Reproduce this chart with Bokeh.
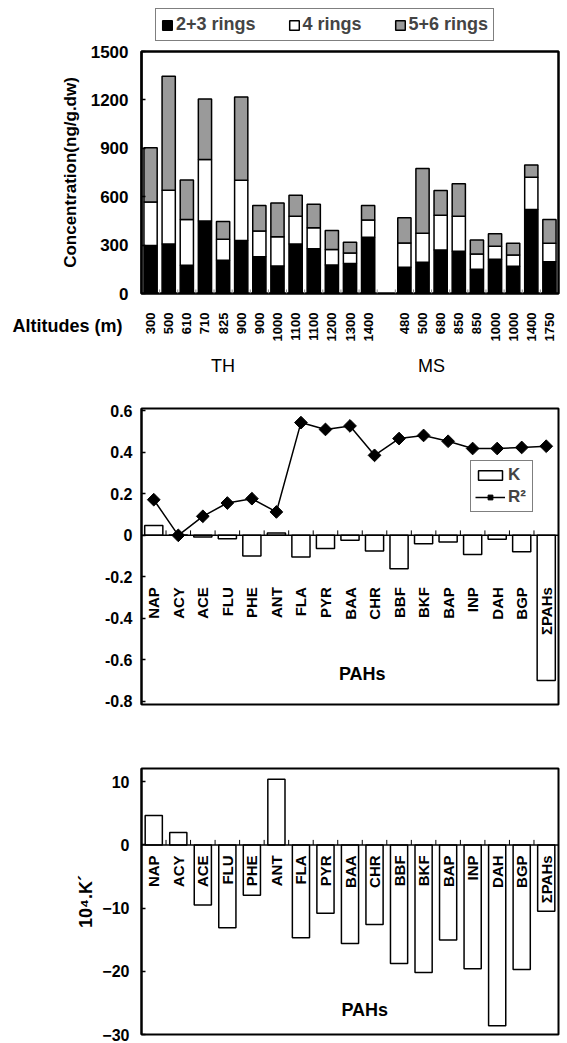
import numpy as np
from bokeh.plotting import figure
from bokeh.models import Range1d, FixedTicker, Legend, LegendItem, Span, ColumnDataSource
from bokeh.layouts import column
from bokeh.embed import file_html
from bokeh.resources import INLINE
from bokeh.core.properties import value

FONT = "Liberation Sans"

# ---------------- Chart 1 data ----------------
th_alt = ["300", "500", "610", "710", "825", "900", "900", "1000", "1100", "1100", "1200", "1300", "1400"]
ms_alt = ["480", "500", "680", "850", "850", "1000", "1000", "1400", "1750"]
th_r23 = [298, 307, 175, 449, 206, 328, 228, 170, 307, 277, 177, 186, 348]
th_r4 = [269, 333, 283, 381, 131, 374, 160, 182, 172, 131, 95, 65, 108]
th_r56 = [336, 706, 245, 375, 110, 516, 158, 209, 130, 145, 118, 67, 89]
ms_r23 = [163, 193, 270, 262, 150, 212, 169, 521, 197]
ms_r4 = [150, 181, 215, 217, 95, 81, 69, 200, 114]
ms_r56 = [156, 401, 153, 202, 87, 77, 73, 76, 148]
group_names = ["TH", "MS"]
ring_names = ["2+3 rings", "4 rings", "5+6 rings"]
conc_ticks = [0, 300, 600, 900, 1200, 1500]

# ---------------- Chart 2 data ----------------
pahs = ["NAP", "ACY", "ACE", "FLU", "PHE", "ANT", "FLA", "PYR", "BAA", "CHR",
        "BBF", "BKF", "BAP", "INP", "DAH", "BGP", "ΣPAHs"]
k_vals = [0.048, 0.002, -0.008, -0.016, -0.100, 0.011, -0.105, -0.064, -0.024, -0.076,
          -0.161, -0.040, -0.032, -0.092, -0.019, -0.079, -0.700]
r2_vals = [0.172, 0.0, 0.092, 0.156, 0.177, 0.113, 0.544, 0.511, 0.528, 0.386,
           0.467, 0.482, 0.454, 0.419, 0.419, 0.424, 0.430]
k_ticks = [-0.8, -0.6, -0.4, -0.2, 0, 0.2, 0.4, 0.6]
k_tick_labels = ["-0.8", "-0.6", "-0.4", "-0.2", "0", "0.2", "0.4", "0.6"]

# ---------------- Chart 3 data ----------------
kp_vals = [4.65, 1.97, -9.5, -13.1, -7.95, 10.4, -14.7, -10.8, -15.6, -12.6,
           -18.75, -20.2, -15.05, -19.6, -28.6, -19.7, -10.5]
kp_ticks = [-30, -20, -10, 0, 10]

W = 567
LB, RB = 141, 9          # common frame borders (column aligns frames)
BAR_LINE = 1.5
GRAY = "#9a9a9a"


def base_fig(height, x_range, y_range, top, bottom):
    p = figure(width=W, height=height, x_range=x_range, y_range=y_range,
               output_backend="svg", toolbar_location=None,
               min_border_left=LB, min_border_right=RB,
               min_border_top=top, min_border_bottom=bottom)
    p.xgrid.visible = False
    p.ygrid.visible = False
    p.xaxis.visible = False
    return p


def style_yaxis(p, size, standoff):
    ax = p.yaxis[0]
    ax.major_label_text_font = FONT
    ax.major_label_text_font_style = "bold"
    ax.major_label_text_font_size = size
    ax.major_label_text_color = "black"
    ax.major_tick_in = 4
    ax.major_tick_out = 0
    ax.minor_tick_line_color = None
    ax.major_tick_line_color = "black"
    ax.major_tick_line_width = 1.5
    ax.axis_line_color = "black"
    ax.axis_line_width = 2
    ax.major_label_standoff = standoff
    ax.axis_label_text_color = "black"
    ax.axis_label_text_font = FONT
    ax.axis_label_text_font_style = "bold"


def stacked_bars(p, src, visible=True):
    r1 = p.vbar(x="x", bottom=0, top="b1", width=0.73, fill_color="black", line_color="black", line_width=BAR_LINE, source=src, visible=visible)
    r2 = p.vbar(x="x", bottom="b1", top="b2", width=0.73, fill_color="white", line_color="black", line_width=BAR_LINE, source=src, visible=visible)
    r3 = p.vbar(x="x", bottom="b2", top="b3", width=0.73, fill_color=GRAY, line_color="black", line_width=BAR_LINE, source=src, visible=visible)
    return r1, r2, r3


# ================= Chart 1 =================
n_th = len(th_alt)
n_ms = len(ms_alt)
n_slots = n_th + 1 + n_ms
xs = list(range(n_th)) + list(range(n_th + 1, n_slots))
alts = th_alt + ms_alt
r23 = np.array(th_r23 + ms_r23)
r4 = np.array(th_r4 + ms_r4)
r56 = np.array(th_r56 + ms_r56)
src1 = ColumnDataSource(dict(x=xs, b1=r23, b2=r23 + r4, b3=r23 + r4 + r56))
x_range1 = Range1d(-0.5, n_slots - 0.5)

# ---- legend strip (hidden copies of the bar renderers; only the legend shows)
p0 = base_fig(41, x_range1, Range1d(0, 1500), 0, 0)
p0.yaxis.visible = False
p0.outline_line_color = None
l1, l2, l3 = stacked_bars(p0, src1, visible=False)
leg1 = Legend(items=[LegendItem(label=ring_names[0], renderers=[l1]),
                     LegendItem(label=ring_names[1], renderers=[l2]),
                     LegendItem(label=ring_names[2], renderers=[l3])],
              orientation="horizontal", location=(14, 0),
              label_text_font=FONT, label_text_font_style="bold", label_text_font_size="18px",
              glyph_width=12, glyph_height=12, label_standoff=3, spacing=32, padding=5, margin=0,
              border_line_color="black", border_line_width=1.5,
              inactive_fill_alpha=0)
p0.add_layout(leg1)

# ---- main chart 1
p1 = base_fig(261, x_range1, Range1d(0, 1500), 10, 9)
p1.outline_line_color = "black"
p1.outline_line_width = 2.5
p1.segment(x0=[i + 0.5 for i in range(n_slots - 1)], y0=0,
           x1=[i + 0.5 for i in range(n_slots - 1)], y1=25, line_color="#888888", line_width=1)
stacked_bars(p1, src1)

p1.yaxis.ticker = FixedTicker(ticks=conc_ticks)
style_yaxis(p1, "17px", 13)
p1.yaxis.axis_label = "Concentration(ng/g.dw)"
p1.yaxis.axis_label_text_font_size = "17px"
p1.yaxis.axis_label_standoff = 8

# ---- altitude strip
p1b = base_fig(46, x_range1, Range1d(-46, 0), 0, 0)
p1b.outline_line_color = None
p1b.text(x=xs, y=-10, text=alts, angle=np.pi / 2, text_align="right", text_baseline="middle",
         text_font=value(FONT), text_font_style="bold", text_font_size="13px", text_color="black")
ay = p1b.yaxis[0]
ay.ticker = FixedTicker(ticks=[])
ay.axis_line_color = None
ay.major_tick_line_color = None
ay.minor_tick_line_color = None
ay.major_tick_in = 0
ay.major_tick_out = 0
ay.major_label_standoff = 0
ay.axis_label = "Altitudes (m)"
ay.axis_label_orientation = "horizontal"
ay.axis_label_standoff = 19
ay.axis_label_text_font = FONT
ay.axis_label_text_font_style = "bold"
ay.axis_label_text_font_size = "18px"
ay.axis_label_text_color = "black"

# ---- group strip (TH / MS)
p1c = base_fig(40, x_range1, Range1d(-40, 0), 0, 0)
p1c.yaxis.visible = False
p1c.outline_line_color = None
p1c.text(x=[4.0, 15.5], y=-17, text=group_names, text_align="center", text_baseline="middle",
         text_font=value(FONT), text_font_size="18px", text_color="black")

# ================= Chart 2 =================
idx = list(range(len(pahs)))
bounds = [i + 0.5 for i in range(len(pahs) - 1)]

p2 = base_fig(347, Range1d(-0.5, len(pahs) - 0.5), Range1d(-0.816, 0.612), 20, 31)
p2.outline_line_color = "black"
p2.outline_line_width = 2

src2 = ColumnDataSource(dict(x=idx, k=k_vals, r2=r2_vals, lab=pahs))
kb = p2.vbar(x="x", bottom=0, top="k", width=0.74, fill_color="white", line_color="black", line_width=BAR_LINE, source=src2)
p2.add_layout(Span(location=0, dimension="width", line_color="black", line_width=1.5))
p2.segment(x0=bounds, y0=0, x1=bounds, y1=0.024, line_color="black", line_width=1)
rl = p2.line(x="x", y="r2", line_color="black", line_width=1.5, source=src2)
rs = p2.scatter(x="x", y="r2", marker="square", angle=np.pi / 4, size=9, fill_color="black", line_color="black", source=src2)
p2.text(x="x", y=-0.25, text="lab", angle=np.pi / 2, text_align="right", text_baseline="middle",
        text_font=value(FONT), text_font_style="bold", text_font_size="15px", source=src2)
p2.text(x=[8.5], y=-0.667, text=["PAHs"], text_align="center", text_baseline="middle",
        text_font=value(FONT), text_font_style="bold", text_font_size="18px")

p2.yaxis.ticker = FixedTicker(ticks=k_ticks)
p2.yaxis.major_label_overrides = {t: s for t, s in zip(k_ticks, k_tick_labels)}
style_yaxis(p2, "16px", 9)

leg2 = Legend(items=[LegendItem(label="K", renderers=[kb]),
                     LegendItem(label="R²", renderers=[rl, rs])],
              location=(329, 192), label_text_font=FONT, label_text_font_style="bold",
              label_text_font_size="17px", glyph_width=30, glyph_height=12, label_height=18,
              label_standoff=3, spacing=2, padding=4, margin=0,
              border_line_color="black", border_line_width=1.5)
p2.add_layout(leg2)

# ================= Chart 3 =================
p3 = base_fig(308, Range1d(-0.5, len(pahs) - 0.5), Range1d(-30, 12.1), 33, 9)
p3.outline_line_color = "black"
p3.outline_line_width = 2

src3 = ColumnDataSource(dict(x=idx, k=kp_vals, lab=pahs))
p3.vbar(x="x", bottom=0, top="k", width=0.7, fill_color="white", line_color="black", line_width=BAR_LINE, source=src3)
p3.add_layout(Span(location=0, dimension="width", line_color="black", line_width=1.5))
p3.segment(x0=bounds, y0=0, x1=bounds, y1=0.8, line_color="black", line_width=1)
p3.text(x="x", y=-1.66, text="lab", angle=np.pi / 2, text_align="right", text_baseline="middle",
        text_font=value(FONT), text_font_style="bold", text_font_size="15px", source=src3)
p3.text(x=[8.6], y=-26.2, text=["PAHs"], text_align="center", text_baseline="middle",
        text_font=value(FONT), text_font_style="bold", text_font_size="18px")

p3.yaxis.ticker = FixedTicker(ticks=kp_ticks)
style_yaxis(p3, "16px", 12)
p3.yaxis.axis_label = "10⁴.K´"
p3.yaxis.axis_label_text_font_size = "18px"
p3.yaxis.axis_label_standoff = 3

layout = column(p0, p1, p1b, p1c, p2, p3, spacing=0)
open("out.html", "w").write(file_html(layout, INLINE))
